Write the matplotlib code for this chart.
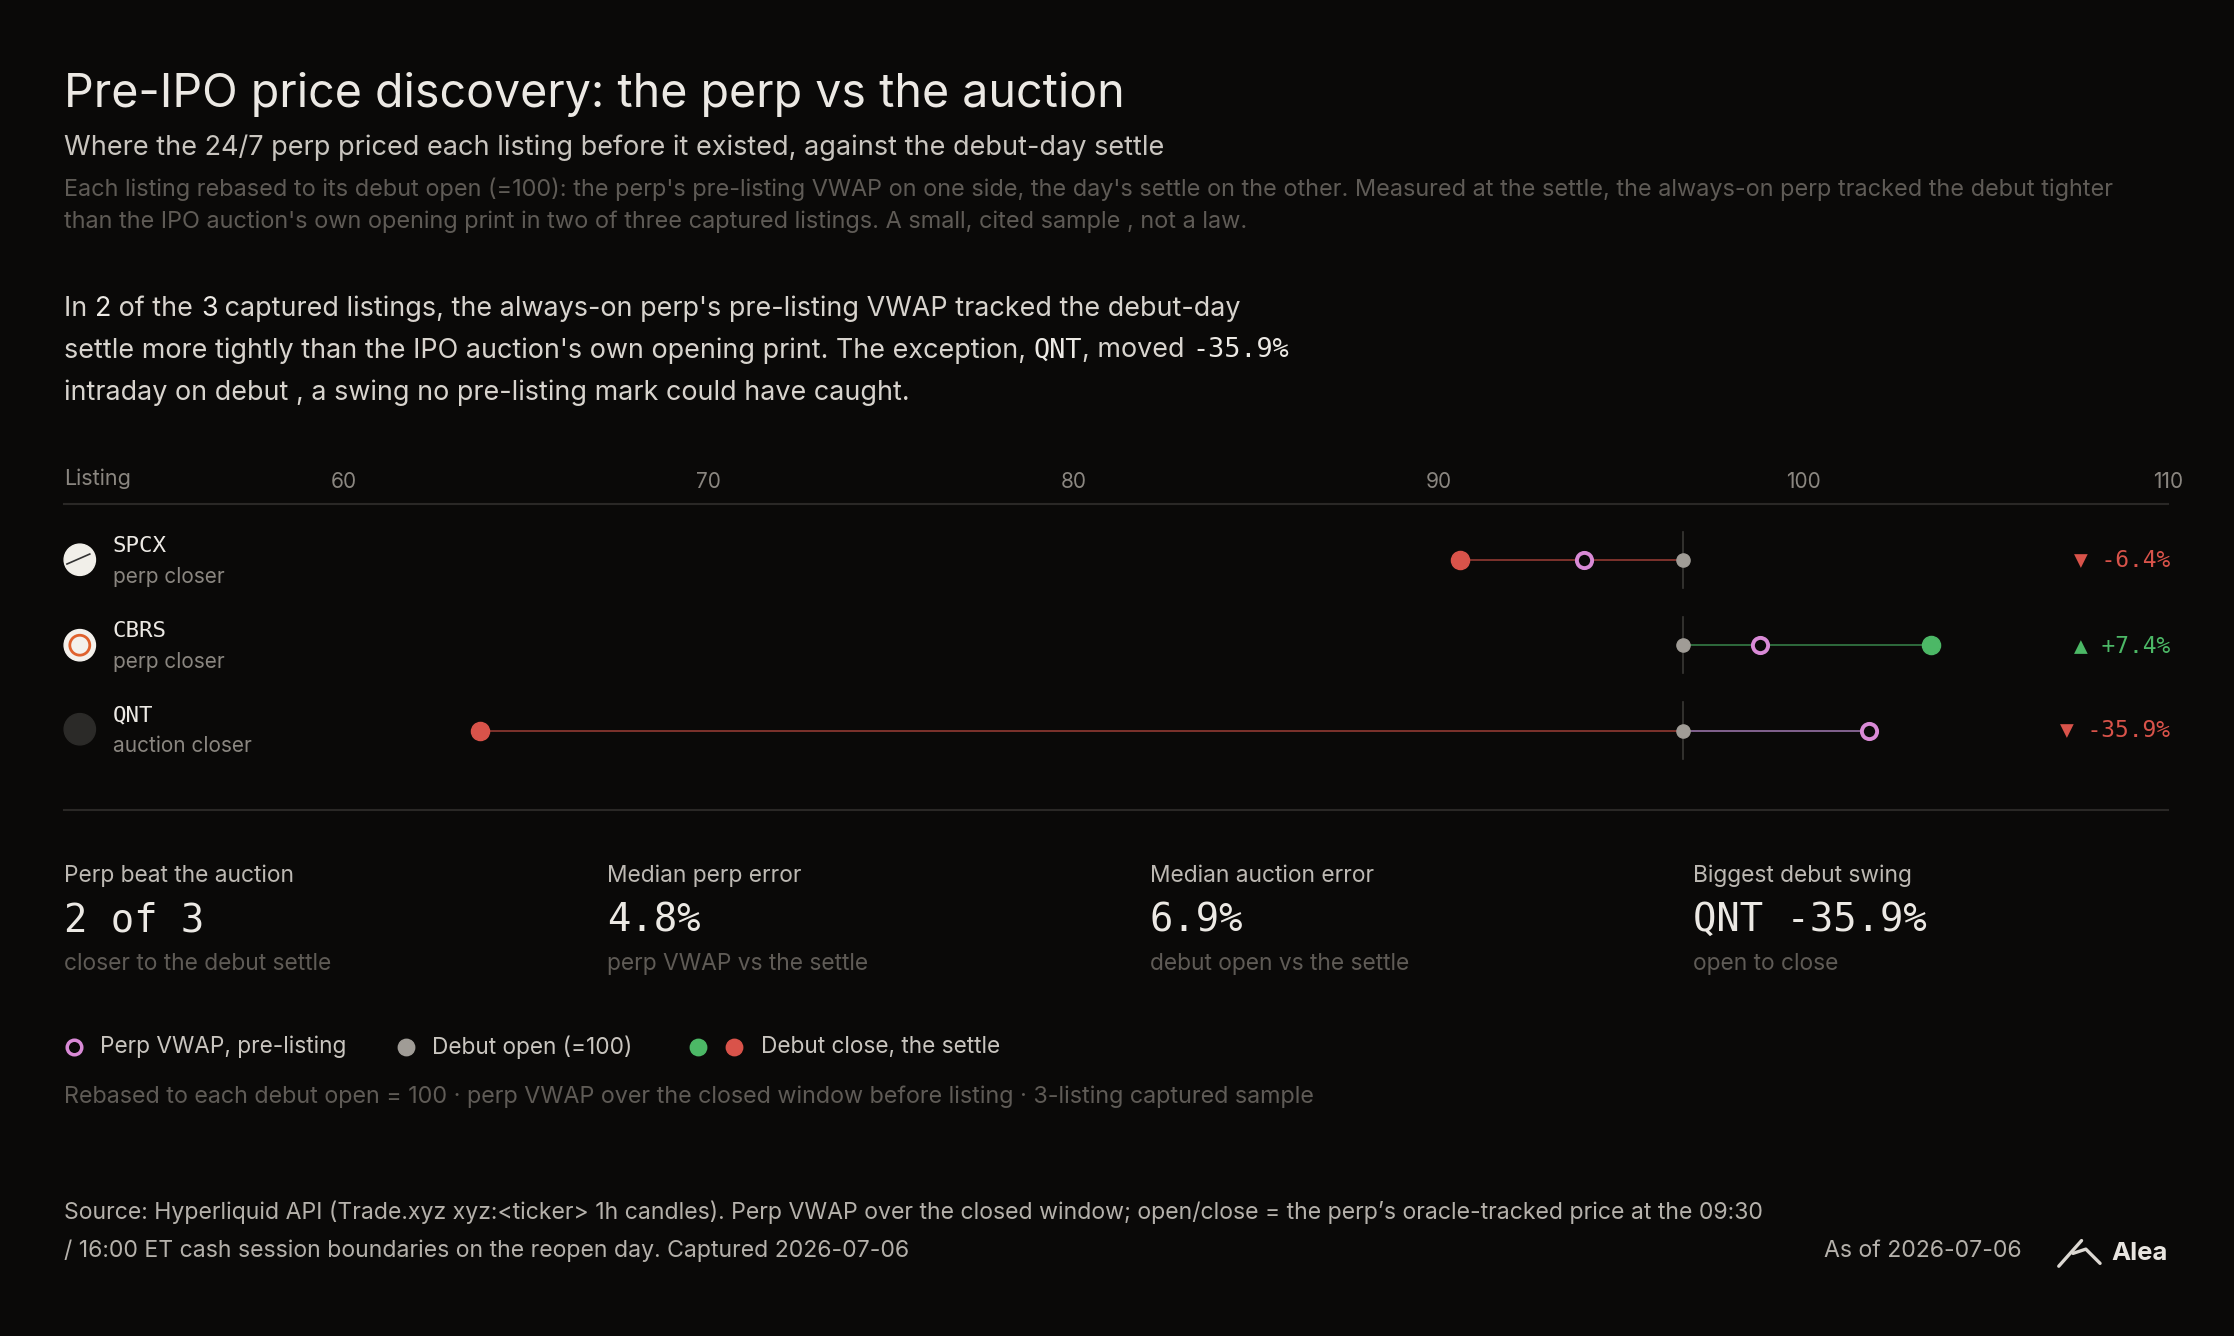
import matplotlib.pyplot as plt
from matplotlib.patches import Circle
import matplotlib.transforms as mtransforms

# data (rebased levels)
tickers = ["SPCX", "CBRS", "QNT"]
verdicts = ["perp closer", "perp closer", "auction closer"]
debut_open = [96.7, 96.7, 96.7]
perp_vwap = [94.0, 98.8, 101.8]
debut_close = [90.6, 103.5, 63.75]
swing = ["-6.4%", "+7.4%", "-35.9%"]
x_ticks = [60, 70, 80, 90, 100, 110]

stat_labels = ["Perp beat the auction", "Median perp error", "Median auction error", "Biggest debut swing"]
stat_values = ["2 of 3", "4.8%", "6.9%", "QNT -35.9%"]
stat_subs = ["closer to the debut settle", "perp VWAP vs the settle", "debut open vs the settle", "open to close"]

BG = "#0a0908"
RED = "#d9534a"
GREEN = "#4cb866"
PINK = "#d98ad6"
GREY = "#a09c96"
WHITE = "#ece9e4"
MUTED = "#8a8680"
DIM = "#5f5b56"
SANS = ["Inter", "DejaVu Sans"]
MONO = ["DejaVu Sans Mono"]

W, H = 1568, 938
fig = plt.figure(figsize=(22.34, 13.36), dpi=100, facecolor=BG)
ov = fig.add_axes([0, 0, 1, 1])
ov.set_xlim(0, W)
ov.set_ylim(H, 0)
ov.axis("off")

def t(x, y, s, size, color=WHITE, fam=SANS, **kw):
    return ov.text(x, y, s, fontsize=size, color=color, family=fam, **kw)

t(45, 66, "Pre-IPO price discovery: the perp vs the auction", 33.5, va="center")
t(45, 104, "Where the 24/7 perp priced each listing before it existed, against the debut-day settle", 19.5, color="#c9c5bf", va="center")
t(45, 133, "Each listing rebased to its debut open (=100): the perp's pre-listing VWAP on one side, the day's settle on the other. Measured at the settle, the always-on perp tracked the debut tighter", 16.9, color=DIM, va="center")
t(45, 156, "than the IPO auction's own opening print in two of three captured listings. A small, cited sample , not a law.", 16.9, color=DIM, va="center")

# paragraph with mono bits
renderer = fig.canvas.get_renderer()
def run(x, y, parts):
    trans = ov.transData
    for s, kind in parts:
        col = "#d8d4ce" if kind == 0 else WHITE
        txt = ov.text(x, y, s, fontsize=19.4, color=col,
                      family=MONO if kind == 2 else SANS, va="center", transform=trans)
        ex = txt.get_window_extent(renderer=renderer)
        trans = mtransforms.offset_copy(txt.get_transform(), fig=fig, x=ex.width, units="dots")
run(45, 217, [("In ", 0), ("2", 1), (" of the ", 0), ("3", 1), (" captured listings, the always-on perp's pre-listing VWAP tracked the debut-day", 0)])
run(45, 246, [("settle more tightly than the IPO auction's own opening print. The exception, ", 0), ("QNT", 2), (", moved ", 0), ("-35.9%", 2)])
run(45, 276, [("intraday on debut , a swing no pre-listing mark could have caught.", 0)])

# dumbbell axes
x0, x1 = 241, 1522
y_top, y_bot = 363, 543
ax = fig.add_axes([x0 / W, 1 - y_bot / H, (x1 - x0) / W, (y_bot - y_top) / H])
ax.set_facecolor("none")
ax.set_xlim(60, 110)
ax.set_ylim(2.5, -0.5)
for s in ax.spines.values():
    s.set_visible(False)
ax.set_yticks([])
ax.set_xticks(x_ticks)
ax.xaxis.tick_top()
ax.tick_params(axis="x", length=0, pad=18, labelsize=15, labelcolor=MUTED)
for lab in ax.get_xticklabels():
    lab.set_family(SANS)

for i in range(len(tickers)):
    o, p, c = debut_open[i], perp_vwap[i], debut_close[i]
    col = GREEN if c > o else RED
    ax.plot([o, o], [i - 0.33, i + 0.33], color="#3a3835", lw=1.2, zorder=1)
    ax.plot([o, c], [i, i], color=col, lw=1.3, alpha=0.6, zorder=2)
    if (p - o) * (c - o) < 0:
        ax.plot([o, p], [i, i], color="#8c6a9a", lw=1.3, zorder=2)
    ax.scatter([c], [i], s=170, color=col, zorder=4)
    ax.scatter([o], [i], s=90, color=GREY, zorder=4)
    ax.scatter([p], [i], s=120, facecolor=BG, edgecolor=PINK, linewidth=2.8, zorder=5)

t(45, 336, "Listing", 15.5, color=MUTED, va="center")
ov.plot([45, 1522], [354, 354], color="#2a2826", lw=1.5)
ov.plot([45, 1522], [569, 569], color="#2a2826", lw=1.5)
row_y = [393, 453, 512]
logo_cols = ["#f1efe9", "#f4f1ec", "#2b2a28"]
for i, ry in enumerate(row_y):
    ov.add_patch(Circle((56, ry), 11, color=logo_cols[i]))
    t(79, ry - 10, tickers[i], 16.2, fam=MONO, va="center")
    t(79, ry + 12, verdicts[i], 15, color=MUTED, va="center")
    col = GREEN if swing[i].startswith("+") else RED
    arrow = "▲" if swing[i].startswith("+") else "▼"
    t(1523, ry, arrow + " " + swing[i], 16.5, color=col, fam=MONO, ha="right", va="center")
ov.add_patch(Circle((56, 453), 7, color="#e0622e", fill=False, lw=2))
ov.plot([47, 63], [396, 389], color="#333", lw=1.2)

# stats
for k in range(4):
    sx = 45 + k * 381
    t(sx, 615, stat_labels[k], 16.4, color="#bdb9b3", va="center")
    t(sx, 646, stat_values[k], 28, fam=MONO, va="center")
    t(sx, 677, stat_subs[k], 16.4, color=DIM, va="center")

# legend
ov.scatter([52], [735], s=110, facecolor=BG, edgecolor=PINK, linewidth=2.5)
t(70, 735, "Perp VWAP, pre-listing", 16.3, color="#c9c5bf", va="center")
ov.scatter([285], [735], s=140, color=GREY)
t(303, 735, "Debut open (=100)", 16.3, color="#c9c5bf", va="center")
ov.scatter([490], [735], s=140, color=GREEN)
ov.scatter([515], [735], s=140, color=RED)
t(534, 735, "Debut close, the settle", 16.3, color="#c9c5bf", va="center")
t(45, 770, "Rebased to each debut open = 100 · perp VWAP over the closed window before listing · 3-listing captured sample", 16.8, color=DIM, va="center")

t(45, 851, "Source: Hyperliquid API (Trade.xyz xyz:<ticker> 1h candles). Perp VWAP over the closed window; open/close = the perp’s oracle-tracked price at the 09:30", 16.6, color="#b5b1ab", va="center")
t(45, 878, "/ 16:00 ET cash session boundaries on the reopen day. Captured 2026-07-06", 16.6, color="#b5b1ab", va="center")
t(1419, 878, "As of 2026-07-06", 16.6, color="#b5b1ab", ha="right", va="center")
ov.plot([1445, 1461], [889, 871], color="#dcd8d2", lw=2.4, solid_capstyle="round")
ov.plot([1455, 1464, 1474], [880, 877, 887], color="#dcd8d2", lw=2.4, solid_capstyle="round")
t(1482, 880, "Alea", 18.5, color="#e8e5e0", weight="bold", va="center")

fig.savefig("out.png", dpi=100, facecolor=BG)
